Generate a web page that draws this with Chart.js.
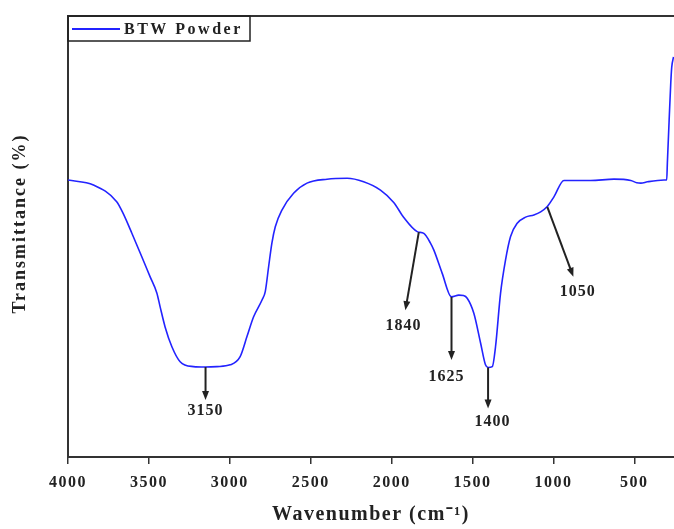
<!DOCTYPE html>
<html>
<head>
<meta charset="utf-8">
<script src="https://cdn.jsdelivr.net/npm/chart.js@4.4.0/dist/chart.umd.min.js"></script>
<style>
  body { margin: 0; background: #fff; }
  canvas { display: block; }
</style>
</head>
<body>
<canvas id="ftir" width="674" height="529"></canvas>
<script>
// spectrum (wavenumber cm-1 / transmittance, arbitrary %)
const wavenumber = [4000, 3843, 3699, 3660, 3606, 3544, 3493, 3451, 3431, 3400, 3358, 3307, 3225, 3152, 3080, 2998, 2937, 2894, 2853, 2801, 2781, 2760, 2740, 2719, 2678, 2606, 2523, 2399, 2275, 2173, 2069, 1987, 1925, 1842, 1801, 1760, 1739, 1688, 1630, 1585, 1556, 1533, 1492, 1450, 1420, 1404, 1378, 1358, 1327, 1296, 1265, 1224, 1172, 1121, 1079, 1038, 997, 935, 770, 626, 522, 485, 460, 419, 316, 300, 296, 285, 275, 269, 258];
const transmittance = [62.8, 61.7, 57.9, 55.3, 50.8, 45.4, 40.9, 37.2, 34.1, 29.5, 25.0, 21.6, 20.5, 20.4, 20.5, 20.9, 22.7, 27.3, 31.8, 35.6, 37.5, 43.2, 48.5, 52.2, 56.0, 59.8, 62.1, 63.0, 63.2, 62.4, 60.5, 57.7, 54.3, 51.1, 50.7, 48.5, 46.9, 41.7, 36.3, 36.7, 36.6, 36.0, 32.6, 25.8, 20.9, 20.3, 20.5, 25.0, 37.1, 44.7, 50.0, 53.0, 54.4, 54.9, 55.6, 56.8, 59.0, 62.7, 62.7, 63.0, 62.7, 62.2, 62.1, 62.4, 62.8, 62.8, 66.7, 76.4, 84.8, 88.4, 90.7];

const xTicks = [4000, 3500, 3000, 2500, 2000, 1500, 1000, 500];

// peak annotations (arrow from the curve down to the label)
const peakLabels = ['3150', '1840', '1625', '1400', '1050'];
const arrowFromX = [3150, 1832, 1630, 1404, 1038];
const arrowFromY = [20.4, 51.0, 36.3, 20.3, 56.7];
const arrowToX = [3150, 1915, 1630, 1404, 877];
const arrowToY = [12.9, 33.3, 22.0, 11.0, 40.9];
const labelX = [3150, 1927, 1661, 1376, 850];
const labelY = [10.4, 29.7, 18.1, 7.9, 37.4];

const seriesName = 'BTW Powder';
const lineColor = 'rgb(35, 35, 255)';
const inkColor = '#222';
const serif = '"Liberation Serif", "Times New Roman", serif';

const decorations = {
    id: 'decorations',
    beforeDraw(chart) {
        chart.ctx.letterSpacing = '1.5px';
    },
    afterDraw(chart) {
        const ctx = chart.ctx;
        const area = chart.chartArea;
        const xs = chart.scales.x;
        const ys = chart.scales.y;

        ctx.save();
        // top frame line (right side is cut off in the original)
        ctx.strokeStyle = '#333';
        ctx.lineWidth = 2;
        ctx.beginPath();
        ctx.moveTo(area.left, area.top);
        ctx.lineTo(area.right, area.top);
        ctx.stroke();

        // arrows + peak labels
        ctx.fillStyle = inkColor;
        ctx.strokeStyle = inkColor;
        ctx.lineWidth = 2;
        for (let i = 0; i < peakLabels.length; i++) {
            const x0 = xs.getPixelForValue(arrowFromX[i]);
            const y0 = ys.getPixelForValue(arrowFromY[i]);
            const x1 = xs.getPixelForValue(arrowToX[i]);
            const y1 = ys.getPixelForValue(arrowToY[i]);
            const ang = Math.atan2(y1 - y0, x1 - x0);
            const head = 9;
            ctx.beginPath();
            ctx.moveTo(x0, y0);
            ctx.lineTo(x1 - Math.cos(ang) * head * 0.6, y1 - Math.sin(ang) * head * 0.6);
            ctx.stroke();
            ctx.beginPath();
            ctx.moveTo(x1, y1);
            ctx.lineTo(x1 - head * Math.cos(ang) + 3.5 * Math.sin(ang), y1 - head * Math.sin(ang) - 3.5 * Math.cos(ang));
            ctx.lineTo(x1 - head * Math.cos(ang) - 3.5 * Math.sin(ang), y1 - head * Math.sin(ang) + 3.5 * Math.cos(ang));
            ctx.closePath();
            ctx.fill();

            ctx.font = 'bold 16px ' + serif;
            ctx.letterSpacing = '1px';
            ctx.textAlign = 'center';
            ctx.textBaseline = 'middle';
            ctx.fillText(peakLabels[i], xs.getPixelForValue(labelX[i]), ys.getPixelForValue(labelY[i]));
        }

        // legend box in the top-left corner
        ctx.lineWidth = 1.5;
        ctx.strokeStyle = '#222';
        ctx.strokeRect(area.left, area.top, 182, 25);
        ctx.strokeStyle = lineColor;
        ctx.lineWidth = 2;
        ctx.beginPath();
        ctx.moveTo(area.left + 4, area.top + 13);
        ctx.lineTo(area.left + 52, area.top + 13);
        ctx.stroke();
        ctx.fillStyle = inkColor;
        ctx.font = 'bold 16px ' + serif;
        ctx.letterSpacing = '2.5px';
        ctx.textAlign = 'left';
        ctx.textBaseline = 'middle';
        ctx.fillText(seriesName, area.left + 56, area.top + 13.5);

        // y axis title
        ctx.translate(20, (area.top + area.bottom) / 2 - 13);
        ctx.rotate(-Math.PI / 2);
        ctx.font = 'bold 18px ' + serif;
        ctx.letterSpacing = '2px';
        ctx.textAlign = 'center';
        ctx.fillText('Transmittance (%)', 0, 0);
        ctx.restore();
    }
};

new Chart(document.getElementById('ftir'), {
    type: 'line',
    data: {
        datasets: [{
            label: seriesName,
            data: wavenumber.map((w, i) => ({ x: w, y: transmittance[i] })),
            borderColor: lineColor,
            borderWidth: 1.6,
            pointRadius: 0,
            fill: false,
            cubicInterpolationMode: 'monotone'
        }]
    },
    options: {
        responsive: false,
        animation: false,
        layout: { padding: { top: 16, right: 0, left: 0, bottom: 0 } },
        plugins: {
            legend: { display: false },
            tooltip: { enabled: false }
        },
        scales: {
            x: {
                type: 'linear',
                reverse: true,
                min: 255,
                max: 4000,
                afterBuildTicks: axis => { axis.ticks = xTicks.map(v => ({ value: v })); },
                afterFit: axis => { axis.height = 72; },
                border: { display: true, color: '#333', width: 2 },
                grid: { display: true, drawOnChartArea: false, drawTicks: true, tickLength: 7, color: '#333', lineWidth: 1.5 },
                ticks: {
                    color: inkColor,
                    padding: 9,
                    maxRotation: 0,
                    autoSkip: false,
                    callback: v => String(v),
                    font: { family: serif, size: 16, weight: 'bold' }
                },
                title: {
                    display: true,
                    text: 'Wavenumber (cm\u207B\u00B9)',
                    color: inkColor,
                    padding: { top: 0, bottom: 2 },
                    font: { family: serif, size: 20, weight: 'bold' }
                }
            },
            y: {
                min: 0,
                max: 100,
                afterFit: axis => { axis.width = 68; },
                border: { display: true, color: '#333', width: 2 },
                grid: { display: false },
                ticks: { display: false }
            }
        }
    },
    plugins: [decorations]
});
</script>
</body>
</html>
